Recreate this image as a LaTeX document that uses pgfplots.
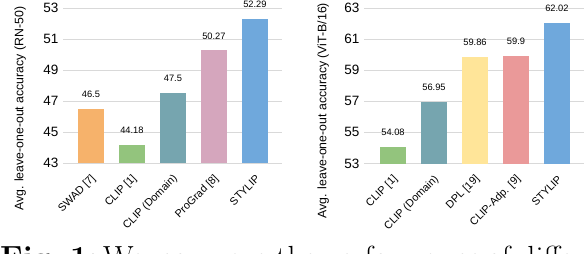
\documentclass[border=0pt]{standalone}
\usepackage{pgfplots}
\pgfplotsset{compat=1.18}
\usepackage{fontspec}
\newfontfamily\chartfont{Liberation Sans}
\definecolor{corange}{HTML}{F6B26B}
\definecolor{cgreen}{HTML}{93C47D}
\definecolor{cteal}{HTML}{76A5AF}
\definecolor{cpink}{HTML}{D5A6BD}
\definecolor{cblue}{HTML}{6FA8DC}
\definecolor{cyellow}{HTML}{FFE599}
\definecolor{cred}{HTML}{EA9999}
\definecolor{gridgray}{HTML}{D9D9D9}
\pgfplotsset{
  mystyle/.style={
    scale only axis,
    ybar, bar width=26pt, bar shift=0pt,
    axis line style={draw=none},
    major tick length=0pt,
    ymajorgrids, grid style={draw=gridgray, line width=0.9pt},
    xtick={0,1,2,3,4},
    enlarge y limits=false, enlarge x limits=false,
    clip=false,
    /pgf/number format/assume math mode=true,
    yticklabel style={font=\chartfont\fontsize{13.5}{14}\selectfont, xshift=-1pt},
    xticklabel style={font=\chartfont\fontsize{10.8}{12}\selectfont, inner sep=0pt, xshift=3pt, yshift=-14pt, rotate=45, anchor=east},
    ylabel style={font=\chartfont\fontsize{12.3}{13}\selectfont, anchor=center, rotate=0},
    nodes near coords, point meta=explicit symbolic,
    every node near coord/.append style={font=\chartfont\fontsize{9.3}{10}\selectfont, anchor=south, inner sep=0pt, yshift=11pt},
    every axis plot/.append style={draw=none},
  }
}
\begin{document}
\begin{tikzpicture}
\useasboundingbox (0pt,-254pt) rectangle (586pt,0pt);
\clip (0pt,-254pt) rectangle (586pt,0pt);
% left chart
\begin{axis}[mystyle,
  at={(63pt,-163pt)}, anchor=south west,
  width=219pt, height=155pt,
  xmin=-0.68, xmax=4.66, ymin=43, ymax=53,
  ytick={43,45,47,49,51,53},
  xticklabels={SWAD [7], CLIP [1], CLIP (Domain), ProGrad [8], STYLIP},
  ylabel={Avg. leave-one-out accuracy (RN-50)},
  ylabel style={at={(axis description cs:-0.196,0.35)}},
]
\addplot[fill=corange] coordinates {(0,46.5) [46.5]};
\addplot[fill=cgreen] coordinates {(1,44.18) [44.18]};
\addplot[fill=cteal] coordinates {(2,47.5) [47.5]};
\addplot[fill=cpink] coordinates {(3,50.27) [50.27]};
\addplot[fill=cblue] coordinates {(4,52.29) [52.29]};
\end{axis}
% right chart
\begin{axis}[mystyle,
  at={(364pt,-163.5pt)}, anchor=south west,
  width=220pt, height=155.5pt,
  xmin=-0.707, xmax=4.66, ymin=53, ymax=63,
  ytick={53,55,57,59,61,63},
  xticklabels={CLIP [1], CLIP (Domain), DPL [19], CLIP-Adp. [9], STYLIP},
  ylabel={Avg. leave-one-out accuracy (ViT-B/16)},
  ylabel style={at={(axis description cs:-0.186,0.34)}},
]
\addplot[fill=cgreen] coordinates {(0,54.08) [54.08]};
\addplot[fill=cteal] coordinates {(1,56.95) [56.95]};
\addplot[fill=cyellow] coordinates {(2,59.86) [59.86]};
\addplot[fill=cred] coordinates {(3,59.9) [59.9]};
\addplot[fill=cblue] coordinates {(4,62.02) [62.02]};
\end{axis}
% caption (cut off at the bottom edge)
\begin{scope}[every node/.style={anchor=base west, inner sep=0pt, font=\fontsize{32}{36}\selectfont}]
\node at (0pt,-268pt) {\bfseries Fig.};
\node at (70pt,-268pt) {\bfseries 1:};
\node at (103pt,-268pt) {We};
\node at (160pt,-268pt) {compare};
\node at (276pt,-268pt) {the};
\node at (323pt,-268pt) {performance};
\node at (487pt,-268pt) {of};
\node at (519pt,-268pt) {different};
\end{scope}
\end{tikzpicture}
\end{document}
